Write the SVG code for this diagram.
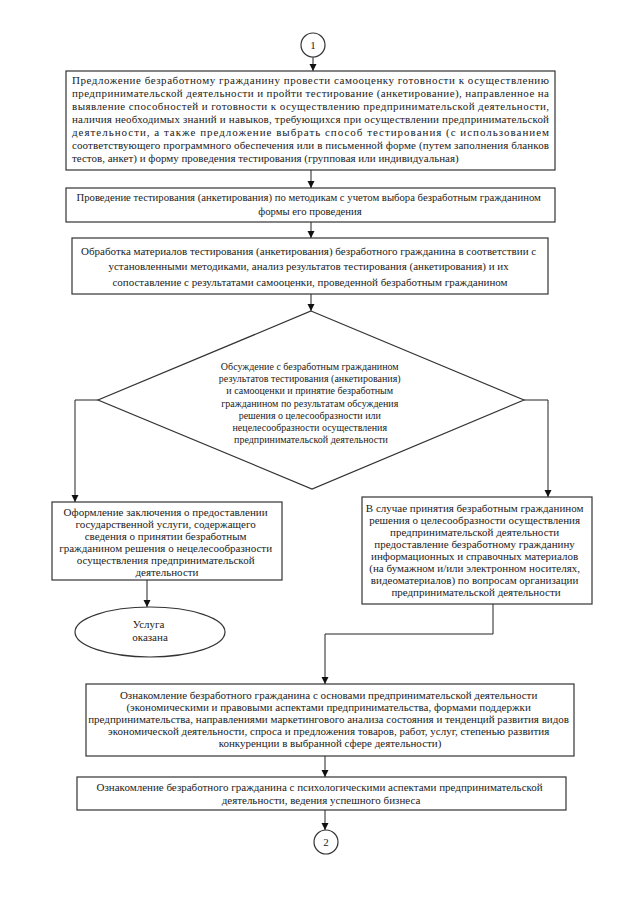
<svg xmlns="http://www.w3.org/2000/svg" width="639" height="905" viewBox="0 0 639 905">
<defs>
<marker id="arr" markerUnits="userSpaceOnUse" markerWidth="8" markerHeight="8" refX="7" refY="3.5" orient="auto">
<path d="M0,0 L7,3.5 L0,7 z" fill="#111"/>
</marker>
<style>
.box{fill:#fff;stroke:#333;stroke-width:1.2}
.t{font-family:'Liberation Serif','Times New Roman',serif;font-size:11px;fill:#222}
.s{font-size:10px}
.c{text-anchor:middle}
.ln{fill:none;stroke:#222;stroke-width:1;marker-end:url(#arr)}
</style>
</defs>
<rect width="639" height="905" fill="#fff"/>
<g id="connectors">
<line class="ln" x1="313" y1="57" x2="313" y2="71"/>
<line class="ln" x1="311" y1="170" x2="311" y2="188"/>
<line class="ln" x1="311" y1="222" x2="311" y2="238"/>
<line class="ln" x1="311" y1="294" x2="311" y2="311"/>
<polyline class="ln" points="98,400 75,400 75,502"/>
<polyline class="ln" points="524,400 548,400 548,497"/>
<line class="ln" x1="147" y1="580" x2="147" y2="607"/>
<polyline class="ln" points="493,604 493,634 325,634 325,684"/>
<line class="ln" x1="325" y1="756" x2="325" y2="777"/>
<line class="ln" x1="325" y1="810" x2="325" y2="830"/>
</g>
<g id="start">
<circle class="box" cx="313" cy="45" r="12"/>
<text class="t c" x="313" y="49">1</text>
</g>
<g id="offer">
<rect class="box" x="66" y="71" width="489" height="99"/>
<text class="t">
<tspan x="72" y="84" textLength="477" lengthAdjust="spacing">Предложение безработному гражданину провести самооценку готовности к осуществлению</tspan>
<tspan x="72" y="97" textLength="477" lengthAdjust="spacing">предпринимательской деятельности и  пройти тестирование (анкетирование), направленное на</tspan>
<tspan x="72" y="110" textLength="477" lengthAdjust="spacing">выявление способностей и готовности к осуществлению предпринимательской деятельности,</tspan>
<tspan x="72" y="123" textLength="477" lengthAdjust="spacing">наличия необходимых знаний и навыков, требующихся при осуществлении предпринимательской</tspan>
<tspan x="72" y="136" textLength="477" lengthAdjust="spacing">деятельности, а также предложение выбрать способ тестирования (с использованием</tspan>
<tspan x="72" y="149" textLength="477" lengthAdjust="spacing">соответствующего программного обеспечения или в письменной форме (путем заполнения бланков</tspan>
<tspan x="72" y="162">тестов, анкет) и форму проведения тестирования (групповая или индивидуальная)</tspan>
</text>
</g>
<g id="testing">
<rect class="box" x="66" y="188" width="489" height="34"/>
<text class="t c" style="font-size:10.7px">
<tspan x="310" y="201">Проведение тестирования (анкетирования) по методикам с учетом выбора безработным гражданином</tspan>
<tspan x="310" y="215">формы его проведения</tspan>
</text>
</g>
<g id="processing">
<rect class="box" x="72" y="238" width="476" height="56"/>
<text class="t c">
<tspan x="310" y="255">Обработка материалов тестирования (анкетирования) безработного гражданина в соответствии с</tspan>
<tspan x="310" y="270">установленными методиками, анализ результатов тестирования (анкетирования) и их</tspan>
<tspan x="310" y="286">сопоставление с результатами самооценки, проведенной безработным гражданином</tspan>
</text>
</g>
<g id="decision">
<polygon class="box" points="311,311 524,400 312,489 98,400"/>
<text class="t s c">
<tspan x="311" y="370">Обсуждение с безработным гражданином</tspan>
<tspan x="311" y="382">результатов тестирования (анкетирования)</tspan>
<tspan x="311" y="394">и самооценки и  принятие безработным</tspan>
<tspan x="311" y="407">гражданином по результатам обсуждения</tspan>
<tspan x="311" y="419">решения о целесообразности или</tspan>
<tspan x="311" y="431">нецелесообразности осуществления</tspan>
<tspan x="311" y="443">предпринимательской деятельности</tspan>
</text>
</g>
<g id="conclusion">
<rect class="box" x="52" y="502" width="230" height="78"/>
<text class="t c">
<tspan x="167" y="516">Оформление заключения о предоставлении</tspan>
<tspan x="167" y="528">государственной услуги, содержащего</tspan>
<tspan x="167" y="540">сведения о принятии безработным</tspan>
<tspan x="167" y="552">гражданином решения о нецелесообразности</tspan>
<tspan x="167" y="564">осуществления предпринимательской</tspan>
<tspan x="167" y="576">деятельности</tspan>
</text>
</g>
<g id="done">
<ellipse class="box" cx="150" cy="632" rx="75" ry="25"/>
<text class="t c">
<tspan x="150" y="628">Услуга</tspan>
<tspan x="150" y="641">оказана</tspan>
</text>
</g>
<g id="materials">
<rect class="box" x="362" y="497" width="230" height="107"/>
<text class="t c">
<tspan x="476" y="512">В случае принятия безработным гражданином</tspan>
<tspan x="476" y="524">решения о целесообразности осуществления</tspan>
<tspan x="476" y="536">предпринимательской деятельности</tspan>
<tspan x="476" y="548">предоставление безработному гражданину</tspan>
<tspan x="476" y="560">информационных и справочных материалов</tspan>
<tspan x="476" y="572">(на бумажном и/или электронном носителях,</tspan>
<tspan x="476" y="584">видеоматериалов) по вопросам организации</tspan>
<tspan x="476" y="596">предпринимательской деятельности</tspan>
</text>
</g>
<g id="basics">
<rect class="box" x="86" y="684" width="488" height="72"/>
<text class="t c">
<tspan x="330" y="699">Ознакомление безработного гражданина с основами предпринимательской деятельности</tspan>
<tspan x="330" y="711">(экономическими и правовыми аспектами предпринимательства, формами поддержки</tspan>
<tspan x="330" y="723">предпринимательства, направлениями маркетингового анализа состояния и тенденций развития видов</tspan>
<tspan x="330" y="735">экономической деятельности, спроса и предложения товаров, работ, услуг, степенью развития</tspan>
<tspan x="330" y="747">конкуренции в выбранной сфере деятельности)</tspan>
</text>
</g>
<g id="psychology">
<rect class="box" x="77" y="777" width="489" height="33"/>
<text class="t c">
<tspan x="321" y="791">Ознакомление безработного гражданина с психологическими аспектами предпринимательской</tspan>
<tspan x="321" y="804">деятельности, ведения успешного бизнеса</tspan>
</text>
</g>
<g id="end">
<circle class="box" cx="326" cy="842" r="12"/>
<text class="t c" x="326" y="846">2</text>
</g>
</svg>
